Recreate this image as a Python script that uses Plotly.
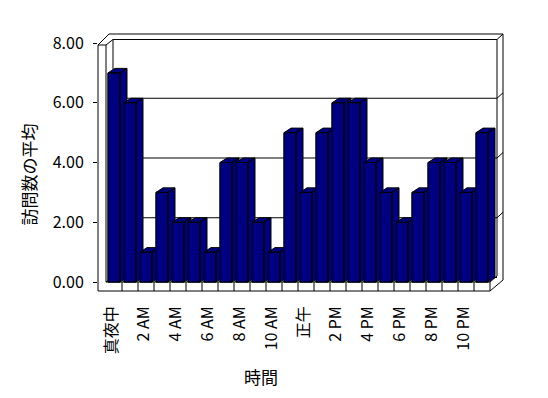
import plotly.graph_objects as go

# ---- data ----
hours = list(range(24))
hour_labels = ["真夜中", "2 AM", "4 AM", "6 AM", "8 AM", "10 AM",
               "正午", "2 PM", "4 PM", "6 PM", "8 PM", "10 PM"]
avg_visits = [7, 6, 1, 3, 2, 2, 1, 4, 4, 2, 1, 5,
              3, 5, 6, 6, 4, 3, 2, 3, 4, 4, 3, 5]
y_ticks = [0, 2, 4, 6, 8]

# ---- geometry (page pixels of the 548x398 window) ----
W_FIG, H_FIG = 548, 398
OFF = 8                                 # default body margin of the page
L, R, T, B = 98, 504, 34, 291          # plot area
X0PX, XSTEP = 114, 16                  # category 0 centre, px per category
Y0PX, YSTEP = 282, 239 / 8             # value 0 row, px per unit
DXPX, DYPX = 7, 4.5                    # 3-D depth offset

xr = [(L - X0PX) / XSTEP, (R - X0PX) / XSTEP]
yr = [(Y0PX - B) / YSTEP, (Y0PX - T) / YSTEP]
dx = DXPX / XSTEP
dy = DYPX / YSTEP
hw = 0.375
label_shift = 0.15

NAVY = "#000080"
FONT = "Noto Sans CJK JP"


def px(x):
    return (x - L) / (R - L)


def py(y):
    return (B - y) / (B - T)


fig = go.Figure()

# plain bars (front faces), covered by the 3-D faces below
fig.add_trace(go.Bar(x=hours, y=avg_visits, width=2 * hw,
                     marker=dict(color=NAVY, line=dict(color="black", width=1)),
                     hoverinfo="skip", showlegend=False))

for h, v in zip(hours, avg_visits):
    xs, ys = [], []
    # side face
    xs += [h + hw, h + hw + dx, h + hw + dx, h + hw, h + hw, None]
    ys += [0, dy, v + dy, v, 0, None]
    # top face
    xs += [h - hw, h - hw + dx, h + hw + dx, h + hw, h - hw, None]
    ys += [v, v + dy, v + dy, v, v, None]
    # front face
    xs += [h - hw, h + hw, h + hw, h - hw, h - hw]
    ys += [0, 0, v, v, 0]
    fig.add_trace(go.Scatter(x=xs, y=ys, mode="lines", fill="toself",
                             fillcolor=NAVY, line=dict(color="black", width=1),
                             hoverinfo="skip", showlegend=False))

# ---- walls / floor (frame) ----
segs = [
    ((98, 45), (98, 291)), ((106, 45), (106, 282)), ((98, 45), (106, 45)),
    ((98, 45), (109, 34)), ((106, 45), (113, 39.5)),
    ((109, 34), (503, 34)), ((113, 39.5), (497, 39.5)),
    ((113, 39.5), (113, 277.5)), ((497, 39.5), (497, 276)),
    ((503, 34), (503, 280)), ((497, 39.5), (503, 34)),
    ((106, 282), (490, 282)), ((98, 291), (490, 291)), ((490, 282), (490, 291)),
    ((490, 282), (497, 276)), ((490, 291), (503, 280)),
    ((113, 277.5), (497, 277.5)), ((106, 282), (113, 277.5)),
]
for k in range(1, 24):
    xk = 106 + 16 * k
    segs.append(((xk, 282), (xk, 291)))
for v in y_ticks[1:-1]:
    yy = Y0PX - v * YSTEP - DYPX
    segs.append(((113, yy), (497, yy)))
    segs.append(((497, yy), (503, yy - 5.5)))

shapes = []
for (x1, y1), (x2, y2) in segs:
    shapes.append(dict(type="line", xref="paper", yref="paper",
                       x0=px(x1), y0=py(y1), x1=px(x2), y1=py(y2),
                       line=dict(color="black", width=1), layer="below"))

fig.update_layout(
    width=W_FIG, height=H_FIG,
    margin=dict(l=L - OFF, r=W_FIG - (R - OFF), t=T - OFF,
                b=H_FIG - (B - OFF), pad=0),
    paper_bgcolor="white", plot_bgcolor="rgba(0,0,0,0)",
    showlegend=False, shapes=shapes,
    font=dict(family=FONT, size=16, color="black"),
    xaxis=dict(range=xr, tickvals=[h - label_shift for h in hours[::2]],
               ticktext=hour_labels, tickangle=-90, ticks="",
               showgrid=False, zeroline=False, showline=False,
               ticklabelstandoff=11,
               tickfont=dict(family=FONT, size=16, color="black")),
    yaxis=dict(range=yr, tickvals=y_ticks, tickformat=".2f",
               ticks="outside", ticklen=4, tickcolor="black",
               showgrid=False, zeroline=False, showline=False,
               ticklabelstandoff=6,
               tickfont=dict(family=FONT, size=16, color="black")),
    annotations=[
        dict(text="時間", xref="paper", yref="paper", x=px(260.5), y=py(376),
             xanchor="center", yanchor="middle", showarrow=False,
             font=dict(family=FONT, size=17, color="black")),
        dict(text="訪問数の平均", xref="paper", yref="paper", x=px(28), y=py(174.5),
             xanchor="center", yanchor="middle", textangle=-90, showarrow=False,
             font=dict(family=FONT, size=17, color="black")),
    ],
)

fig.write_html("out.html")
